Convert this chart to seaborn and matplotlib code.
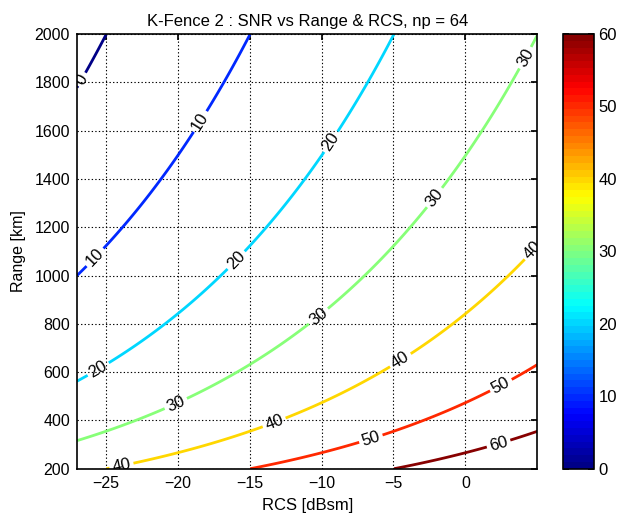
import numpy as np
import matplotlib
matplotlib.use("Agg")
import matplotlib.pyplot as plt
import seaborn as sns
from matplotlib.colors import ListedColormap

# ---- data ----
rcs_dbsm = np.linspace(-27, 5, 321)          # x axis grid [dBsm]
range_km = np.linspace(200, 2000, 361)       # y axis grid [km]
snr_const_db = 157.0                          # radar-equation constant (SNR at 1 km, 0 dBsm)
levels = [0, 10, 20, 30, 40, 50, 60]
label_points = [(-26.6, 1810), (-18.5, 1640), (-26.0, 1090),
                (-9.0, 1540), (-17.6, 1160), (-25.5, 610),
                (3.3, 1930), (-2.3, 1330), (-10.2, 830), (-19.6, 400),
                (4.6, 1110), (-4.0, 600), (-13.6, 440), (-23.9, 210),
                (-6.6, 330), (2.7, 520), (2.5, 265)]
xticks = [-25, -20, -15, -10, -5, 0]
yticks = [200, 400, 600, 800, 1000, 1200, 1400, 1600, 1800, 2000]
cbar_ticks = [0, 10, 20, 30, 40, 50, 60]

RCS, RNG = np.meshgrid(rcs_dbsm, range_km)
SNR = snr_const_db + RCS - 40 * np.log10(RNG)

sns.set_theme(style="white")
plt.rcParams['font.family'] = ['Liberation Sans', 'DejaVu Sans']

# MATLAB-style jet(64)
t = (np.arange(64) + 0.5) / 64
jet_rgb = np.stack([np.clip(1.5 - np.abs(4 * t - 3), 0, 1),
                    np.clip(1.5 - np.abs(4 * t - 2), 0, 1),
                    np.clip(1.5 - np.abs(4 * t - 1), 0, 1)], axis=1)
cmap = ListedColormap(jet_rgb)
norm = matplotlib.colors.Normalize(vmin=0, vmax=60)

fig = plt.figure(figsize=(6.19, 5.17), dpi=100)
ax = fig.add_axes([0.1244, 0.0934, 0.7436, 0.8408])
cax = fig.add_axes([0.910, 0.0934, 0.050, 0.8408])

cs = ax.contour(RCS, RNG, SNR, levels=levels, cmap=cmap, norm=norm, linewidths=2)
ax.clabel(cs, levels=levels, manual=label_points, inline=True, fontsize=12,
          colors='black', fmt='%d', inline_spacing=3)

ax.set_xlim(-27, 5)
ax.set_ylim(200, 2000)
ax.set_xticks(xticks)
ax.set_yticks(yticks)
ax.grid(True, color='black', linestyle=(0, (1.2, 2)), linewidth=0.8)
ax.tick_params(direction='in', top=True, right=True, labelsize=11.5, length=4,
               color='black', labelcolor='black', pad=5)
for s in ax.spines.values():
    s.set_color('black')
    s.set_linewidth(1.2)
ax.set_xlabel('RCS [dBsm]', fontsize=12, color='black', labelpad=5)
ax.set_ylabel('Range [km]', fontsize=11.5, color='black', labelpad=6)
ax.set_title('K-Fence 2 : SNR vs Range & RCS, np = 64', fontsize=12, color='black', pad=6)

sm = matplotlib.cm.ScalarMappable(norm=norm, cmap=cmap)
cb = fig.colorbar(sm, cax=cax, ticks=cbar_ticks)
cb.outline.set_edgecolor('black')
cb.outline.set_linewidth(1.2)
cax.tick_params(direction='in', labelsize=12, length=4, color='black', labelcolor='black',
                left=True, right=True, pad=3)

fig.savefig('out.png', dpi=100)
